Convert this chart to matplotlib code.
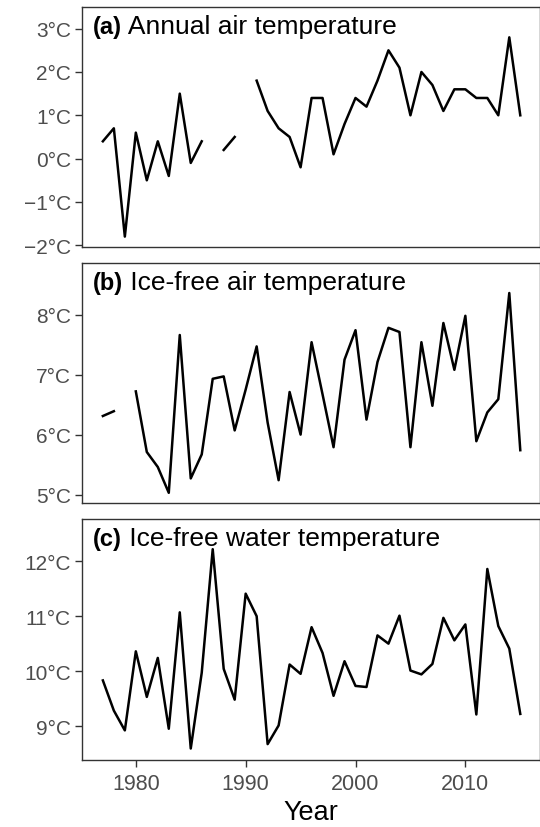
import numpy as np
import matplotlib
matplotlib.use("Agg")
import matplotlib.pyplot as plt

plt.rcParams['font.family'] = ['Liberation Sans', 'DejaVu Sans']

years = list(range(1977, 2016))

nan = np.nan
annual_air = [0.4, 0.7, -1.8, 0.6, -0.5, 0.4, -0.4, 1.5, -0.1, 0.4,
              nan, 0.2, 0.5, nan, 1.8, 1.1, 0.7, 0.5, -0.2, 1.4,
              1.4, 0.1, 0.8, 1.4, 1.2, 1.8, 2.5, 2.1, 1.0, 2.0,
              1.7, 1.1, 1.6, 1.6, 1.4, 1.4, 1.0, 2.8, 1.0]
icefree_air = [6.31, 6.39, nan, 6.72, 5.71, 5.46, 5.03, 7.66, 5.27, 5.67,
               6.93, 6.97, 6.07, 6.75, 7.47, 6.2, 5.24, 6.71, 6.0, 7.54,
               6.67, 5.79, 7.25, 7.74, 6.25, 7.21, 7.78, 7.71, 5.79, 7.54,
               6.48, 7.86, 7.08, 7.98, 5.89, 6.37, 6.59, 8.36, 5.74]
icefree_water = [9.83, 9.28, 8.92, 10.36, 9.53, 10.24, 8.95, 11.07, 8.59, 9.97,
                 12.22, 10.04, 9.48, 11.41, 11.0, 8.67, 9.01, 10.12, 9.95, 10.8,
                 10.33, 9.55, 10.18, 9.73, 9.71, 10.65, 10.5, 11.01, 10.01, 9.94,
                 10.13, 10.97, 10.56, 10.85, 9.21, 11.86, 10.82, 10.41, 9.22]

tags = ["(a)", "(b)", "(c)"]
titles = ["Annual air temperature", "Ice-free air temperature", "Ice-free water temperature"]
yticks = [[-2, -1, 0, 1, 2, 3], [5, 6, 7, 8], [9, 10, 11, 12]]
xticks = [1980, 1990, 2000, 2010]

series = [annual_air, icefree_air, icefree_water]
ylims = [(-2.04, 3.5), (4.86, 8.86), (8.39, 12.77)]
# panel top/bottom in pixels
boxes = [(8, 248), (264, 504), (520, 760.5)]

W, H = 540, 828
fig = plt.figure(figsize=(W / 100, H / 100), dpi=100)

for i in range(3):
    top, bot = boxes[i]
    ax = fig.add_axes([82 / W, (H - bot) / H, 457.5 / W, (bot - top) / H])
    ax.plot(years, series[i], color="black", lw=1.8)
    ax.set_xlim(1975.1, 2016.75)
    ax.set_ylim(*ylims[i])
    ax.set_yticks(yticks[i])
    ax.set_yticklabels([f"{v}°C".replace("-", "\u2212") for v in yticks[i]])
    ax.tick_params(axis="y", labelsize=15, labelcolor="#4D4D4D", color="#333333",
                   length=5, width=1, pad=3)
    ax.set_xticks(xticks)
    if i < 2:
        ax.tick_params(axis="x", bottom=False, labelbottom=False)
    else:
        ax.set_xticklabels([str(x) for x in xticks])
        ax.tick_params(axis="x", labelsize=15.5, labelcolor="#4D4D4D", color="#333333",
                       length=5, width=1, pad=5)
        ax.set_xlabel("Year", fontsize=19.5, labelpad=3)
    for s in ax.spines.values():
        s.set_color("#333333")
        s.set_linewidth(1)
    t = ax.annotate(tags[i], xy=(0, 1), xycoords="axes fraction", xytext=(8, -14),
                    textcoords="offset points", fontsize=17, fontweight="bold",
                    va="center", ha="left")
    ax.annotate(" " + titles[i], xycoords=t, xy=(1, 0.5), va="center", ha="left",
                fontsize=19)

fig.savefig("out.png", dpi=100)
